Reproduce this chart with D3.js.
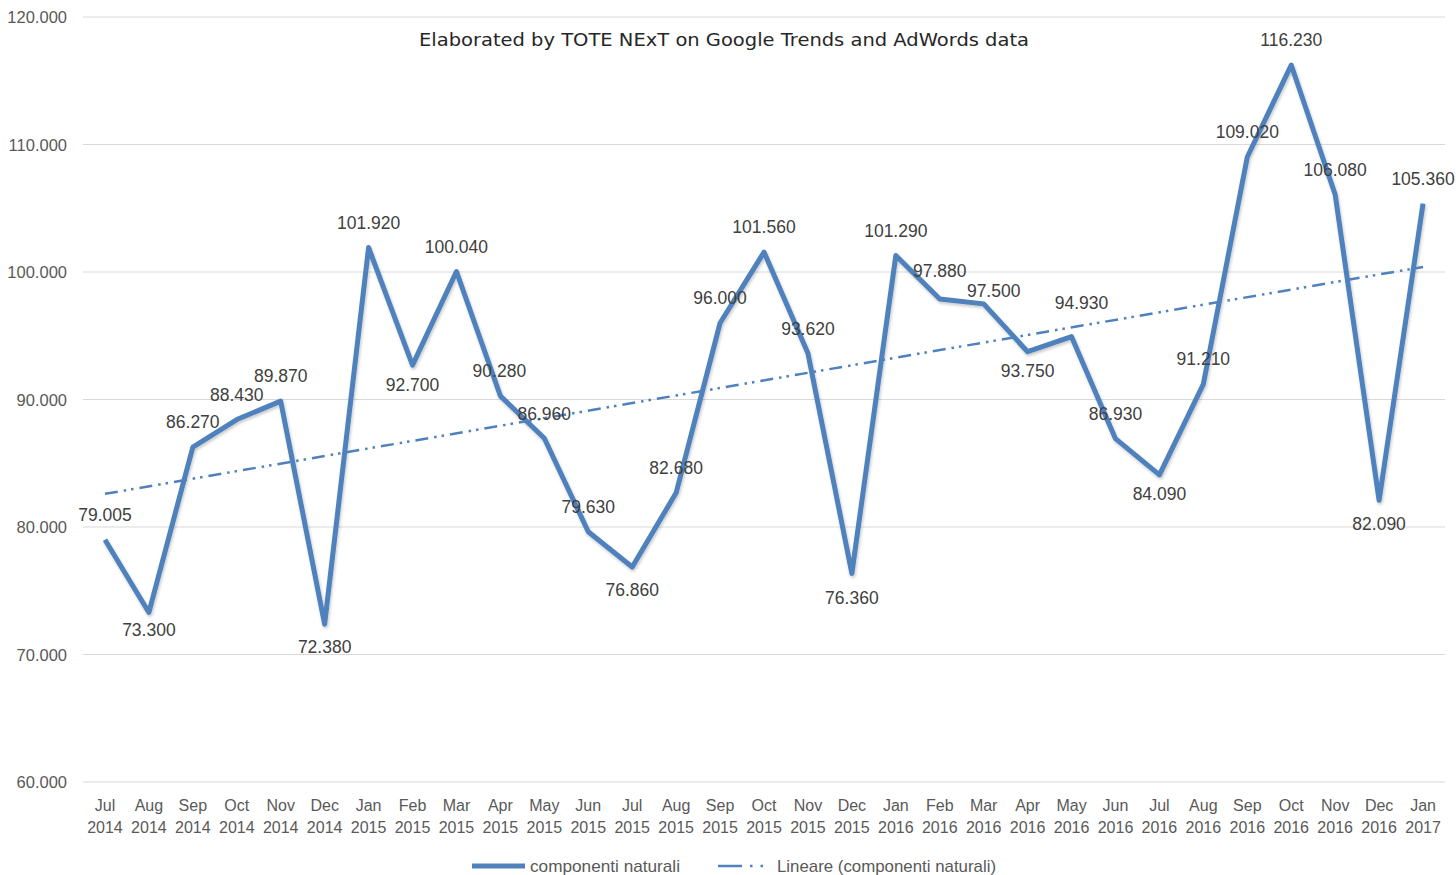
<!DOCTYPE html>
<html><head><meta charset="utf-8">
<script src="https://cdn.jsdelivr.net/npm/d3@7"></script>
<style>body{margin:0;background:#fff;} svg{display:block;}</style>
</head><body>
<svg id="c" width="1456" height="875"></svg>
<script>
const months = ["Jul","Aug","Sep","Oct","Nov","Dec","Jan","Feb","Mar","Apr","May","Jun","Jul","Aug","Sep","Oct","Nov","Dec","Jan","Feb","Mar","Apr","May","Jun","Jul","Aug","Sep","Oct","Nov","Dec","Jan"];
const years = ["2014","2014","2014","2014","2014","2014","2015","2015","2015","2015","2015","2015","2015","2015","2015","2015","2015","2015","2016","2016","2016","2016","2016","2016","2016","2016","2016","2016","2016","2016","2017"];
const values = [79.005,73.300,86.270,88.430,89.870,72.380,101.920,92.700,100.040,90.280,86.960,79.630,76.860,82.680,96.000,101.560,93.620,76.360,101.290,97.880,97.500,93.750,94.930,86.930,84.090,91.210,109.020,116.230,106.080,82.090,105.360];
const labelPlace = ["a","b","a","a","a","b","a","b","a","a","a","a","b","a","a","a","a","b","a","a","a","b","a","a","b","a","a","a","a","b","a"];
const trendEnds = [82.6, 100.4];
const yTicks = [60,70,80,90,100,110,120];
const seriesName = "componenti naturali";
const trendName = "Lineare (componenti naturali)";
const title = "Elaborated by TOTE NExT on Google Trends and AdWords data";

const svg = d3.select("#c");
const L = 83, R = 1445, T = 17, B = 782;
const cats = d3.range(values.length);
const x = d3.scaleBand().domain(cats).range([L, R]);
const cx = i => x(i) + x.bandwidth()/2;
const y = d3.scaleLinear().domain([60,120]).range([B, T]);
const fmtIt = v => v.toFixed(3);
const FONT = "Liberation Sans, Arial, sans-serif";

// gridlines
svg.append("g").selectAll("line").data(yTicks).join("line")
  .attr("x1", L).attr("x2", R).attr("y1", d=>y(d)).attr("y2", d=>y(d))
  .attr("stroke", "#d9d9d9").attr("stroke-width", 1);

// y axis labels
const yAxis = d3.axisLeft(y).tickValues(yTicks).tickSize(0).tickPadding(0).tickFormat(d => d3.format(".3f")(d));
const yg = svg.append("g").attr("transform", `translate(67,0)`).call(yAxis);
yg.select(".domain").remove();
yg.selectAll("text").attr("font-family",FONT).attr("font-size","16.5px").attr("fill","#595959").attr("dy","0.35em");

// x axis labels
const xAxis = d3.axisBottom(x).tickSize(0).tickFormat(()=>"");
const xg = svg.append("g").attr("transform", `translate(0,${B})`).call(xAxis);
xg.select(".domain").remove();
xg.selectAll(".tick text").remove();
xg.selectAll(".tick").each(function(d){
  const t = d3.select(this).append("text").attr("text-anchor","middle")
    .attr("font-family",FONT).attr("font-size","16px").attr("fill","#595959");
  t.append("tspan").attr("x",0).attr("y",29).text(months[d]);
  t.append("tspan").attr("x",0).attr("y",51).text(years[d]);
});

// shadow filter
const defs = svg.append("defs");
const f = defs.append("filter").attr("id","sh").attr("x","-5%").attr("y","-5%").attr("width","110%").attr("height","110%");
f.append("feDropShadow").attr("dx",1).attr("dy",2).attr("stdDeviation",1.5).attr("flood-color","#000").attr("flood-opacity",0.22);

// series line
const line = d3.line().x((d,i)=>cx(i)).y(d=>y(d)).curve(d3.curveLinear);
svg.append("path").datum(values).attr("d", line).attr("fill","none")
  .attr("stroke","#4f81bd").attr("stroke-width",5).attr("stroke-linejoin","round").attr("filter","url(#sh)");

// trend line
svg.append("path").datum(trendEnds)
  .attr("d", d3.line().x((d,i)=> i===0 ? cx(0) : cx(values.length-1)).y(d=>y(d)))
  .attr("fill","none").attr("stroke","#4f81bd").attr("stroke-width",2.5)
  .attr("stroke-dasharray","13,6,2.5,5,2.5,6");

// data labels (label centre offsets from the point)
const dxAdj = {20:10, 22:10, 9:-1};
const dyAdj = {1:17, 5:23, 7:20, 12:23, 17:24, 19:-28, 20:-13, 21:19, 22:-34, 24:19, 29:23};
svg.append("g").selectAll("text").data(values).join("text")
  .attr("x",(d,i)=>cx(i) + (dxAdj[i]||0))
  .attr("y",(d,i)=> {
     const off = (i in dyAdj) ? dyAdj[i] : (labelPlace[i]==="a" ? -25 : 22);
     return y(d) + off + 6.3;
  })
  .attr("text-anchor","middle")
  .attr("font-family",FONT).attr("font-size","17.5px").attr("fill","#404040")
  .text(d=>fmtIt(d));

// title
svg.append("text").attr("x",724).attr("y",46).attr("text-anchor","middle")
  .attr("font-family","DejaVu Sans, sans-serif").attr("font-size","18px").attr("fill","#262626")
  .attr("textLength",610).attr("lengthAdjust","spacingAndGlyphs")
  .text(title);

// legend
const lg = svg.append("g");
lg.append("line").attr("x1",472).attr("x2",525).attr("y1",866).attr("y2",866).attr("stroke","#4f81bd").attr("stroke-width",5);
lg.append("text").attr("x",530).attr("y",872).attr("font-family",FONT).attr("font-size","17px").attr("fill","#595959")
  .attr("textLength",150).attr("lengthAdjust","spacingAndGlyphs").text(seriesName);
lg.append("line").attr("x1",718).attr("x2",770).attr("y1",866).attr("y2",866).attr("stroke","#4f81bd").attr("stroke-width",2.5).attr("stroke-dasharray","24,8,2.5,8,2.5,100");
lg.append("text").attr("x",777).attr("y",872).attr("font-family",FONT).attr("font-size","17px").attr("fill","#595959")
  .attr("textLength",219).attr("lengthAdjust","spacingAndGlyphs").text(trendName);
</script>
</body></html>
